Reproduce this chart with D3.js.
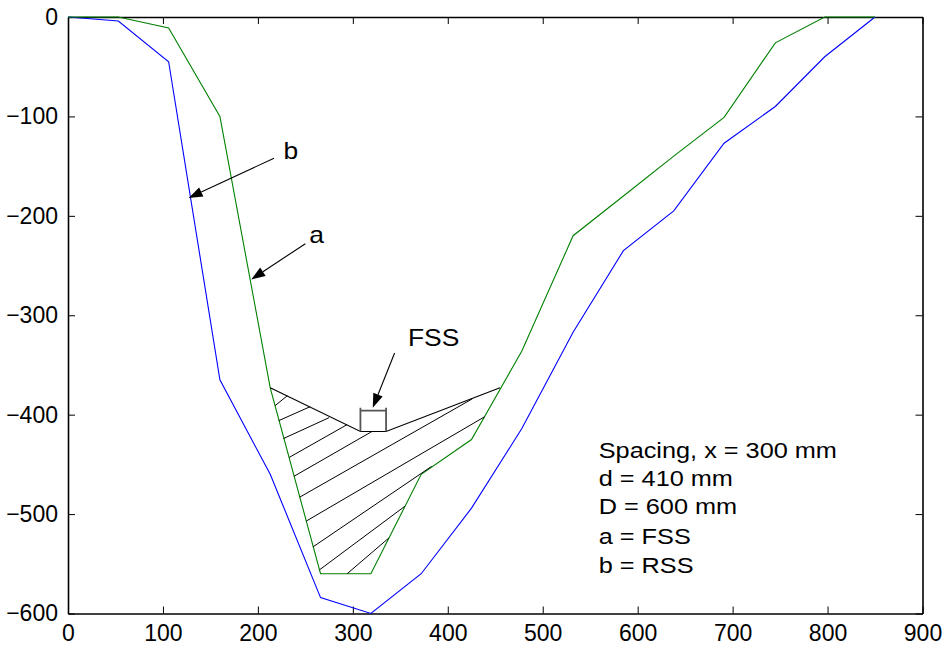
<!DOCTYPE html>
<html>
<head>
<meta charset="utf-8">
<script src="https://cdn.jsdelivr.net/npm/d3@7"></script>
<style>
  html, body { margin: 0; padding: 0; background: #fff; }
  svg text { font-family: Arial, "Liberation Sans", Helvetica, sans-serif; fill: #000; }
</style>
</head>
<body>
<div id="chart"></div>
<script>
// station positions across the section (mm)
const stationX = [0, 53, 106, 160, 213, 266, 319, 372, 425, 478, 532, 585, 638, 691, 745, 797, 850];
// a = FSS profile
const fssDepth = [0, 0, -11, -100, -373, -560, -560, -460, -425, -336, -220, -180, -140, -101, -26, 0, 0];
// b = RSS profile
const rssDepth = [0, -4, -45, -365, -460, -584, -600, -560, -494, -414, -317, -235, -195, -127, -90, -40, 0];

const xTicks = [0, 100, 200, 300, 400, 500, 600, 700, 800, 900];
const yTicks = [0, -100, -200, -300, -400, -500, -600];

// hatched zone under the footing (data units)
const hatchOutline = [[213, -373], [308, -417], [335, -417], [455, -373]];
const hatchLines = [
  [[218, -391], [231, -381]],
  [[222, -406], [255, -392]],
  [[227, -424], [275, -403]],
  [[233, -443], [294, -410]],
  [[238, -462], [320, -417]],
  [[244, -483], [426, -384]],
  [[251, -507], [439, -402]],
  [[258, -533], [383, -452]],
  [[265, -556], [355, -492]],
  [[294, -560], [338, -524]]
];
const footing = { x0: 308, x1: 335, top: -396, bottom: -417 };

const noteLines = ["Spacing, x = 300 mm", "d = 410 mm", "D = 600 mm", "a = FSS", "b = RSS"];

const W = 948, H = 648;
const margin = { left: 68, top: 17, right: 25.5, bottom: 34.5 };
const iw = W - margin.left - margin.right;
const ih = H - margin.top - margin.bottom;

const svg = d3.select("#chart").append("svg")
  .attr("width", W).attr("height", H);

const g = svg.append("g")
  .attr("transform", `translate(${margin.left},${margin.top})`);

const x = d3.scaleLinear().domain([0, 900]).range([0, iw]);
const y = d3.scaleLinear().domain([-600, 0]).range([ih, 0]);

const fontSize = 23;
const labelSize = 22, labelStretch = 1.15; // annotation text is a bit wider in the original

// axes, ticks pointing inward
const styleAxis = sel => {
  sel.select(".domain").attr("stroke", "#000").attr("stroke-width", 1.6);
  sel.selectAll(".tick line").attr("stroke", "#000").attr("stroke-width", 1);
  sel.selectAll("text").attr("font-size", fontSize).attr("fill", "#000")
    .attr("font-family", "Arial, 'Liberation Sans', sans-serif");
};

g.append("g").attr("transform", `translate(0,${ih})`)
  .call(d3.axisBottom(x).tickValues(xTicks).tickSize(-7).tickSizeOuter(0).tickPadding(11))
  .call(styleAxis);
g.append("g")
  .call(d3.axisLeft(y).tickValues(yTicks).tickSize(-7).tickSizeOuter(0).tickPadding(10))
  .call(styleAxis);
g.append("g")
  .call(d3.axisTop(x).tickValues(xTicks).tickSize(-7).tickSizeOuter(0).tickFormat(""))
  .call(styleAxis);
g.append("g").attr("transform", `translate(${iw},0)`)
  .call(d3.axisRight(y).tickValues(yTicks).tickSize(-7).tickSizeOuter(0).tickFormat(""))
  .call(styleAxis);

// profiles
const line = d3.line().x(d => x(d[0])).y(d => y(d[1]));
const rss = stationX.map((v, i) => [v, rssDepth[i]]);
const fss = stationX.map((v, i) => [v, fssDepth[i]]);

g.append("path").attr("d", line(rss))
  .attr("fill", "none").attr("stroke", "#0000ff").attr("stroke-width", 1.1);
g.append("path").attr("d", line(fss))
  .attr("fill", "none").attr("stroke", "#008000").attr("stroke-width", 1.1);

// hatched zone
g.append("path").attr("d", line(hatchOutline))
  .attr("fill", "none").attr("stroke", "#000").attr("stroke-width", 1.1);
g.selectAll(".hatch").data(hatchLines).enter().append("path")
  .attr("class", "hatch")
  .attr("d", d => line(d))
  .attr("fill", "none").attr("stroke", "#000").attr("stroke-width", 1);

// footing box
g.append("path")
  .attr("d", `M${x(footing.x0)},${y(footing.top) - 3}V${y(footing.bottom)}` +
             `M${x(footing.x1)},${y(footing.top) - 3}V${y(footing.bottom)}` +
             `M${x(footing.x0)},${y(footing.top)}H${x(footing.x1)}`)
  .attr("fill", "none").attr("stroke", "#555").attr("stroke-width", 1.8);

// stretched text helper
const stretchedText = (px, py, size) => g.append("g")
  .attr("transform", `translate(${px},${py}) scale(${labelStretch},1)`)
  .append("text").attr("font-size", size);

// arrows with labels
const arrows = [
  { text: "b", from: [217, -142], to: [127, -182], label: [227, -143] },
  { text: "a", from: [250, -228], to: [193, -264], label: [254, -227] },
  { text: "FSS", from: [344, -338], to: [321, -393], label: [358, -331] }
];

arrows.forEach(a => {
  const x1 = x(a.from[0]), y1 = y(a.from[1]);
  const x2 = x(a.to[0]), y2 = y(a.to[1]);
  const ang = Math.atan2(y2 - y1, x2 - x1);
  const len = 14, half = 5;
  const bx = x2 - len * Math.cos(ang), by = y2 - len * Math.sin(ang);
  g.append("line")
    .attr("x1", x1).attr("y1", y1).attr("x2", bx).attr("y2", by)
    .attr("stroke", "#000").attr("stroke-width", 1.1);
  const px = -Math.sin(ang) * half, py = Math.cos(ang) * half;
  g.append("path")
    .attr("d", `M${x2},${y2}L${bx + px},${by + py}L${bx - px},${by - py}Z`)
    .attr("fill", "#000");
  stretchedText(x(a.label[0]), y(a.label[1]), fontSize).text(a.text);
});

// notes
const noteBaselines = [-444, -472, -500, -530, -559];
noteLines.forEach((t, i) => {
  stretchedText(x(559), y(noteBaselines[i]), labelSize).text(t);
});
</script>
</body>
</html>
